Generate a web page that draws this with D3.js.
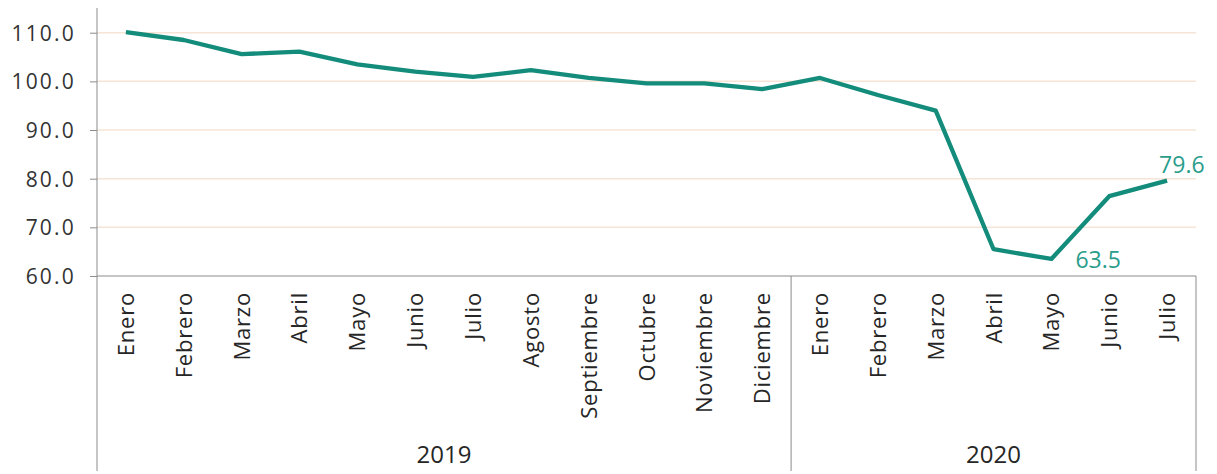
<!DOCTYPE html>
<html><head><meta charset="utf-8">
<script src="https://cdn.jsdelivr.net/npm/d3@7"></script>
<style>body{margin:0;background:#fff}svg{display:block}</style>
</head><body><svg id="c" width="1217" height="474"></svg>
<script>
const months = ["Enero","Febrero","Marzo","Abril","Mayo","Junio","Julio","Agosto","Septiembre","Octubre","Noviembre","Diciembre","Enero","Febrero","Marzo","Abril","Mayo","Junio","Julio"];
const years = ["2019","2020"];
const yearCounts = [12, 7];
const values = [110.1,108.5,105.6,106.1,103.5,102.0,100.9,102.3,100.7,99.6,99.6,98.4,100.7,97.2,94.0,65.5,63.5,76.4,79.6];
const yTicks = [60,70,80,90,100,110];

(function(){
const svg = d3.select("#c");
const mLeft = 97, mRight = 1196, mTop = 8, mBottom = 276, axisBottom = 471;
const keys = months.map((m,i)=>i);
const x = d3.scaleBand().domain(keys).range([mLeft,mRight]).padding(0);
const y = d3.scaleLinear().domain([60,110]).range([mBottom, 32.7]);
const font = "'Open Sans', sans-serif";

// gridlines
svg.append("g").selectAll("line").data(yTicks.filter(t=>t>60)).join("line")
  .attr("x1",mLeft).attr("x2",mRight).attr("y1",d=>y(d)).attr("y2",d=>y(d))
  .attr("stroke","#f6e4d6").attr("stroke-width",1.5);

// y axis
const ya = svg.append("g").attr("transform",`translate(${mLeft},0)`)
  .call(d3.axisLeft(y).tickValues(yTicks).tickFormat(d3.format(".1f")).tickSize(7).tickSizeOuter(0));
ya.select(".domain").remove();
ya.selectAll(".tick line").attr("stroke","#8c8c8c");
ya.selectAll(".tick text").attr("font-family",font).attr("font-size",21).attr("letter-spacing",2.2)
  .attr("fill","#333").attr("x",-21).attr("dy","0.36em");
svg.append("line").attr("x1",mLeft).attr("x2",mLeft).attr("y1",mTop).attr("y2",axisBottom).attr("stroke","#8c8c8c");

// x axis line
svg.append("line").attr("x1",mLeft).attr("x2",mRight).attr("y1",mBottom).attr("y2",mBottom).attr("stroke","#8c8c8c").attr("stroke-width",1.2);

// month labels
svg.append("g").selectAll("text").data(months).join("text")
  .attr("transform",(d,i)=>`translate(${x(i)+x.bandwidth()/2+8},292) rotate(-90)`)
  .attr("text-anchor","end").attr("font-family",font).attr("font-size",22).attr("letter-spacing",0.8).attr("fill","#262626")
  .text(d=>d);

// year groups
let start = 0;
const groups = years.map((yr,j)=>{ const g={yr, s:start, e:start+yearCounts[j]-1}; start+=yearCounts[j]; return g;});
groups.forEach((g,j)=>{
  const x0 = x(g.s), x1 = x(g.e)+x.bandwidth();
  svg.append("line").attr("x1",x1).attr("x2",x1).attr("y1",mBottom).attr("y2",axisBottom).attr("stroke","#8c8c8c");
  svg.append("text").attr("x",(x0+x1)/2).attr("y",463).attr("text-anchor","middle")
    .attr("font-family",font).attr("font-size",24).attr("fill","#262626").text(g.yr);
});

// line
const line = d3.line().x((d,i)=>x(i)+x.bandwidth()/2).y(d=>y(d));
svg.append("path").datum(values).attr("d",line).attr("fill","none")
  .attr("stroke","#138c7b").attr("stroke-width",4.3).attr("stroke-linejoin","round");

// data labels
const fmt = d3.format(".1f");
svg.append("text").attr("x",x(16)+x.bandwidth()/2+24).attr("y",y(values[16])+9)
  .attr("font-family",font).attr("font-size",23).attr("fill","#2a9d8c").text(fmt(values[16]));
svg.append("text").attr("x",x(18)+x.bandwidth()/2-8).attr("y",y(values[18])-8)
  .attr("font-family",font).attr("font-size",23).attr("fill","#2a9d8c").text(fmt(values[18]));
})();
</script></body></html>
